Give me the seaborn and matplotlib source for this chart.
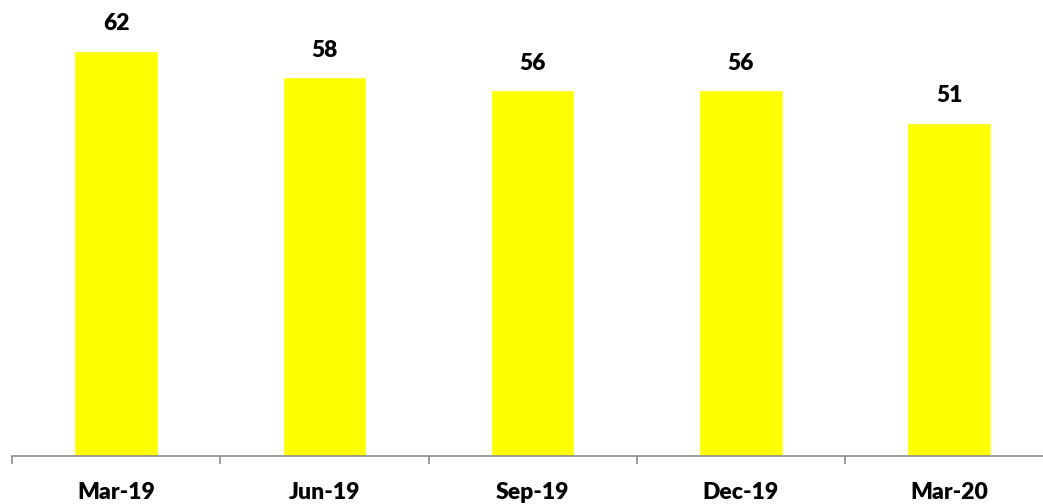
import matplotlib
matplotlib.use("Agg")
import matplotlib.pyplot as plt
import seaborn as sns
import pandas as pd
import numpy as np

# Datos del gráfico
quarters = ["Mar-19", "Jun-19", "Sep-19", "Dec-19", "Mar-20"]
values = [62, 58, 56, 56, 51]

df = pd.DataFrame({"Quarter": quarters, "Value": values})

sns.set_style("white")
plt.rcParams['font.family'] = ['Lato', 'DejaVu Sans']

fig = plt.figure(figsize=(10.43, 5.04), dpi=100)
# el eje se extiende un poco más allá del borde derecho, como en la referencia
ax = fig.add_axes([12 / 1043, 48 / 504, 1041.25 / 1043, 456 / 504])

sns.barplot(data=df, x="Quarter", y="Value", color="#FFFF00",
            saturation=1, width=0.4, ax=ax)

for c in ax.containers:
    ax.bar_label(c, fmt="%d", padding=12, fontsize=16.5, fontweight="heavy", color="#000000")

ax.set_xlim(-0.5, len(quarters) - 0.5)
ax.set_ylim(0, 456 / 6.53)
ax.set_xlabel("")
ax.set_ylabel("")
ax.set_yticks([])

for side in ["top", "right", "left"]:
    ax.spines[side].set_visible(False)
ax.spines["bottom"].set_color("#8c8c8c")
ax.spines["bottom"].set_linewidth(1.2)

# marcas entre categorías
ax.set_xticks(np.arange(-0.5, len(quarters)), minor=True)
ax.tick_params(axis="x", which="both", bottom=True)
ax.tick_params(axis="x", which="minor", length=6, width=1.2, color="#8c8c8c", direction="out")
ax.tick_params(axis="x", which="major", length=0, pad=19)
plt.setp(ax.get_xticklabels(), fontsize=16.5, fontweight="heavy", color="#000000")

fig.savefig("out.png", dpi=100)
